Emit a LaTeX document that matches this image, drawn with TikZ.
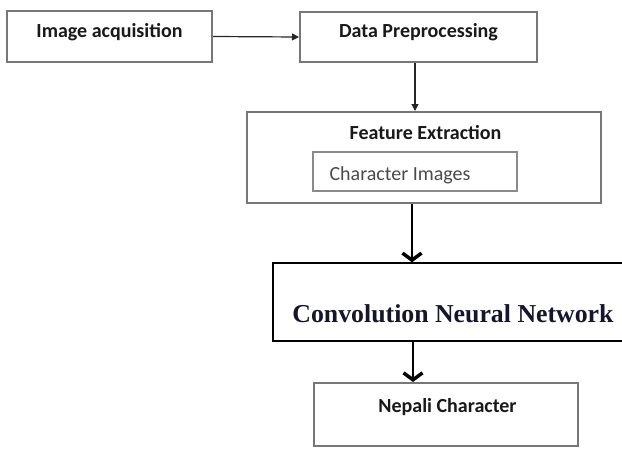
\documentclass[tikz,border=0pt]{standalone}
\usepackage{fontspec}
\setmainfont{Carlito}
\newfontfamily\serifbold{Liberation Serif}
\usetikzlibrary{arrows.meta}
\definecolor{boxgray}{HTML}{777777}
\definecolor{innergray}{HTML}{8A8A8A}
\definecolor{textgray}{HTML}{4A4A4A}
\definecolor{navy}{HTML}{15152E}
\begin{document}
\begin{tikzpicture}[x=1pt,y=-1pt,
  graybox/.style={draw=boxgray, line width=2pt, minimum width=#1, inner sep=0pt},
  lbl/.style={font=\fontsize{20}{22}\selectfont\bfseries, text=black!90, anchor=base, inner sep=0pt},
  arrowA/.style={draw=black!85, line width=1.2pt, -{Triangle[length=7pt,width=7pt]}},
  arrowB/.style={draw=black, line width=1.2pt, -{Straight Barb[length=7pt,width=19pt,line width=3.5pt]}}
]
\useasboundingbox (0,0) rectangle (622,448);
\fill[white] (0,0) rectangle (622,448);
\clip (0,0) rectangle (622,448);

% boxes
\node[graybox=205pt, minimum height=51pt] (b1) at (109.5,36.5) {};
\node[graybox=237pt, minimum height=50pt] (b2) at (418.5,37) {};
\node[graybox=354pt, minimum height=91pt] (b3) at (424,157.5) {};
\node[draw=innergray, line width=1.5pt, minimum width=204pt, minimum height=39pt, inner sep=0pt] (ci) at (415,171.5) {};
\node[draw=black, line width=1.4pt, minimum width=360pt, minimum height=78pt, inner sep=0pt] (b4) at (453,302) {};
\node[graybox=264pt, minimum height=63pt] (b5) at (446,414.5) {};

% texts
\node[lbl] (t1) at (109.5,37.5) {Image acquisition};
\node[lbl] (t2) at (418.5,37.5) {Data Preprocessing};
\node[lbl] (t3) at (425.5,139) {Feature Extraction};
\node[anchor=base, inner sep=0pt, text=textgray, font=\fontsize{20}{22}\selectfont] (t4) at (400,180) {Character Images};
\node[anchor=base, inner sep=0pt, text=navy, font=\serifbold\fontsize{25.8}{28}\selectfont\bfseries] (t5) at (453,322) {Convolution Neural Network};
\node[lbl] (t6) at (447.5,412) {Nepali Character};

% connectors
\draw[arrowA] (b1.east) -- (b2.west);
\draw[arrowA] (b2.south -| ci.north) -- (b3.north -| ci.north);
\draw[arrowB] ([xshift=-3pt]b3.south -| ci.south) -- ([xshift=-3pt]b4.north -| ci.south);
\draw[arrowB] ([xshift=-2pt]b4.south -| ci.south) -- ([xshift=-2pt]b5.north -| ci.south);
\end{tikzpicture}
\end{document}
